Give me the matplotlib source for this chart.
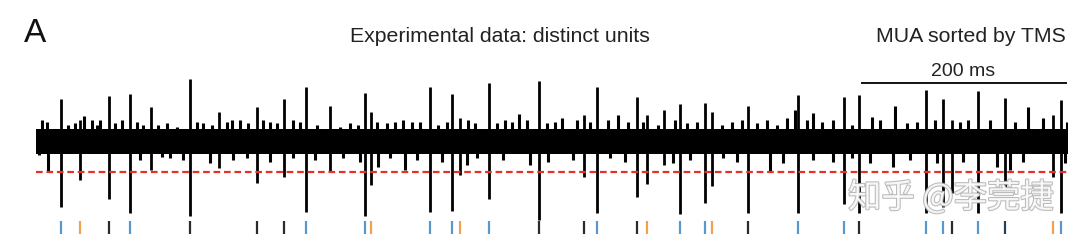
import matplotlib
matplotlib.use("Agg")
import matplotlib.pyplot as plt
import matplotlib.patheffects as pe

plt.rcParams['font.family'] = ['Liberation Sans', 'DejaVu Sans']

# time in ms (trace is ~1 s long), amplitude in arbitrary units (baseline = 0)
spike_t = [24.2, 42.6, 70.7, 91.1, 111.4, 149.2, 177.3, 214.1, 240.3, 261.6,
           284.9, 318.8, 324.6, 381.8, 403.1, 410.9, 439.0, 487.4, 531.0, 543.6,
           582.4, 592.1, 608.5, 624.0, 648.3, 655.0, 689.9, 738.4, 782.9, 797.5,
           862.4, 878.9, 887.6, 912.8, 939.0, 985.5, 993.2]
spike_up = [43, 22, 46, 48, 35, 63, 30, 35, 43, 55,
            36, 49, 30, 55, 48, 24, 59, 61, 27, 55,
            45, 27, 32, 38, 39, 30, 36, 47, 45, 47,
            52, 43, 22, 51, 44, 27, 42]
spike_down = [-65, -38, -57, -71, -28, -74, -26, -41, -35, -70,
              -30, -74, -43, -70, -69, -33, -57, -78, -35, -71,
              -55, -42, -23, -72, -61, -44, -71, -71, -62, -71,
              -71, -65, -51, -71, -45, -35, -71]

# smaller sub-threshold deflections riding on the noise band
minor_up_t = [5.5, 10.4, 31.3, 37.8, 46.5, 54.0, 58.8, 62.0, 76.6, 83.0,
              97.6, 104.0, 118.5, 126.6, 136.3, 155.7, 162.1, 170.3, 184.8, 189.6,
              197.7, 205.7, 220.3, 226.7, 233.2, 249.3, 255.8, 272.0, 294.6, 304.3,
              312.3, 330.1, 339.8, 347.9, 355.9, 364.1, 372.1, 389.8, 398.0, 418.9,
              425.4, 446.4, 454.5, 460.9, 468.3, 475.5, 494.9, 502.9, 509.4, 523.9,
              536.8, 554.6, 564.2, 573.9, 588.5, 603.0, 619.2, 630.5, 640.2, 664.4,
              674.1, 683.8, 698.4, 708.0, 717.7, 727.4, 735.5, 746.8, 753.2, 761.3,
              772.6, 790.4, 809.8, 817.8, 832.4, 843.7, 853.4, 871.1, 895.3, 903.4,
              924.4, 948.6, 961.5, 976.1, 998.7]
minor_up = [22, 20, 17, 19, 26, 22, 17, 22, 19, 22,
            20, 17, 17, 19, 15, 20, 19, 17, 20, 22,
            22, 19, 22, 20, 19, 22, 20, 17, 15, 19,
            17, 20, 19, 20, 22, 20, 20, 17, 20, 22,
            19, 19, 22, 20, 28, 22, 19, 20, 24, 22,
            20, 22, 27, 20, 20, 17, 22, 19, 20, 17,
            20, 22, 19, 22, 17, 24, 32, 22, 29, 20,
            22, 17, 25, 22, 36, 19, 20, 22, 20, 22,
            22, 20, 35, 24, 20]
minor_down_t = [3.2, 11.6, 100.8, 121.8, 129.8, 142.7, 168.6, 191.2, 204.2, 226.7,
                249.3, 270.3, 297.8, 314.0, 331.7, 343.0, 357.6, 368.9, 393.1, 417.3,
                427.0, 452.8, 478.7, 496.4, 520.6, 556.2, 570.7, 617.5, 633.7, 666.0,
                679.0, 711.2, 724.1, 753.2, 772.6, 790.4, 808.1, 830.7, 846.9, 872.8,
                898.5, 930.9, 943.8, 956.7, 997.1]
minor_down = [-13, -30, -18, -15, -16, -18, -21, -18, -16, -20,
              -16, -18, -16, -20, -25, -16, -28, -18, -20, -23,
              -16, -18, -23, -20, -18, -16, -20, -21, -18, -16,
              -20, -30, -21, -18, -20, -16, -21, -25, -18, -21,
              -20, -25, -28, -20, -21]

noise_band = [-12, 13]
threshold = -30

# sorted units (MUA sorted by TMS)
unit_t = [24.2, 42.6, 70.7, 91.1, 149.2, 214.1, 240.3, 261.6, 318.8, 324.6,
          381.8, 403.1, 410.9, 439.0, 487.4, 531.0, 543.6, 582.4, 592.1, 624.0,
          648.3, 655.0, 689.9, 738.4, 782.9, 797.5, 862.4, 878.9, 887.6, 912.8,
          939.0, 985.5, 993.2]
unit_label = ['b', 'o', 'k', 'b', 'k', 'k', 'k', 'b', 'b', 'o',
              'b', 'b', 'o', 'b', 'k', 'k', 'b', 'k', 'o', 'b',
              'b', 'o', 'k', 'b', 'b', 'k', 'b', 'b', 'k', 'b',
              'n', 'o', 'b']
unit_colors = {'b': '#5a97cc', 'o': '#f0a24e', 'k': '#2b2b2b', 'n': '#23405e'}

W, H = 1080, 243
fig = plt.figure(figsize=(W / 100, H / 100), dpi=100)
ax = fig.add_axes([36 / W, 0, 1032 / W, 1])
ax.set_xlim(0, 1000)
ax.set_ylim(-101, 142)
ax.axis('off')

# voltage trace
ax.fill_between([0, 1000], noise_band[0], noise_band[1], color='black', lw=0)
ax.vlines(minor_up_t, 0, minor_up, color='black', lw=2.2)
ax.vlines(minor_down_t, minor_down, 0, color='black', lw=2.2)
ax.vlines(spike_t, spike_down, spike_up, color='black', lw=2.0)
ax.axhline(threshold, color='#e8302a', lw=1.6, dashes=(3, 1.7))

# unit raster
ax.vlines(unit_t, -92, -79, colors=[unit_colors[u] for u in unit_label], lw=1.6)

# scale bar
ax.plot([799, 999], [59, 59], color='black', lw=1.3, solid_capstyle='butt')

fig.text(24 / W, 1 - 34 / H, 'A', fontsize=24, ha='left', va='center', color='#111')
fig.text(500 / W, 1 - 36 / H, 'Experimental data: distinct units', fontsize=15.3,
         ha='center', va='center', color='#222')
fig.text(1066 / W, 1 - 36 / H, 'MUA sorted by TMS', fontsize=15.3,
         ha='right', va='center', color='#222')
fig.text(963 / W, 1 - 72 / H, '200 ms', fontsize=14, ha='center', va='center', color='#222')

# watermark
fig.text(951 / W, 1 - 198 / H, '知乎 @李莞捷', fontsize=24, ha='center', va='center',
         color='white', alpha=0.85, family=['Noto Sans CJK SC', 'DejaVu Sans'],
         path_effects=[pe.withStroke(linewidth=1.5, foreground='#b0b0b0')])

fig.savefig('out.png', dpi=100)
